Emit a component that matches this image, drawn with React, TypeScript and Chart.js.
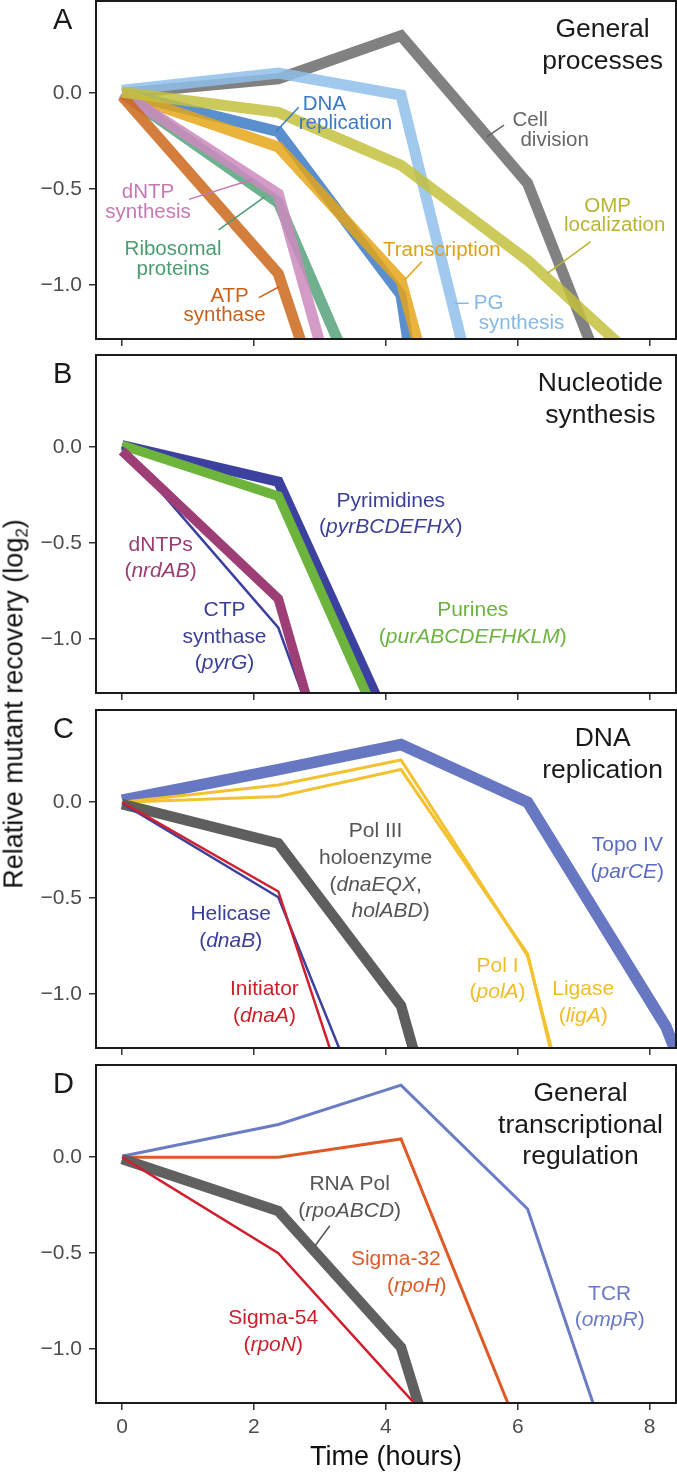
import React, { useEffect, useRef } from "react";
import { Chart, registerables } from "chart.js";

Chart.register(...registerables);

const FONT = "'Liberation Sans', Arial, Helvetica, sans-serif";

// ---------------- data ----------------
const TIME_H = [0, 2.37, 4.23, 6.15, 8.25, 10.3];
const X_TICKS = [0, 2, 4, 6, 8];
const X_TICK_LABELS = ["0", "2", "4", "6", "8"];
const Y_TICKS = [-1.0, -0.5, 0.0];
const Y_TICK_LABELS = ["\u22121.0", "\u22120.5", "0.0"];
const X_TITLE = "Time (hours)";

// Panel A: general processes
const A_CELL_DIVISION = [0.0, 0.075, 0.3, -0.47, -2.3];
const A_PG_SYNTHESIS = [0.015, 0.105, -0.01, -2.69];
const A_DNA_REPLICATION = [0.0, -0.2, -1.05, -5.47];
const A_TRANSCRIPTION = [0.0, -0.28, -0.975, -3.41];
const A_RIBOSOMAL = [0.0, -0.57, -2.05];
const A_DNTP_SYNTHESIS = [0.0, -0.525, -2.82];
const A_ATP_SYNTHASE = [-0.015, -0.94, -2.86];
const A_OMP_LOCALIZATION = [0.005, -0.1, -0.375, -0.87, -1.53];

// Panel B: nucleotide synthesis
const B_PYRIMIDINES = [0.01, -0.18, -1.58];
const B_PURINES = [0.01, -0.255, -1.69];
const B_DNTPS = [-0.02, -0.79, -3.01];
const B_CTP_SYNTHASE = [0.0, -0.94, -2.7];

// Panel C: DNA replication
const C_TOPO_IV = [0.01, 0.17, 0.3, 0.0, -1.17, -3.0];
const C_POL_I = [0.0, 0.03, 0.17, -0.79, -3.81];
const C_LIGASE = [0.0, 0.09, 0.22, -0.8, -3.6];
const C_POL_III = [-0.01, -0.215, -1.06, -3.4];
const C_HELICASE = [-0.005, -0.495, -2.08];
const C_INITIATOR = [0.0, -0.465, -2.41];

// Panel D: general transcriptional regulation
const D_TCR = [0.005, 0.17, 0.375, -0.27, -2.41];
const D_SIGMA32 = [0.0, 0.0, 0.095, -1.535];
const D_RNA_POL = [-0.01, -0.28, -0.99, -3.13];
const D_SIGMA54 = [0.0, -0.5, -1.205, -1.925];

// ---------------- layout / style ----------------
const X_MIN = -0.395;
const X_MAX = 8.4;
const Y_MIN = -1.28;
const Y_MAX = 0.48;
const AREA_H = 338;

type Series = { values: number[]; color: string; width: number };
type Label = { lines: string[]; x: number; y: number; color: string; align?: CanvasTextAlign; dx?: number[] };
type Leader = { x1: number; y1: number; x2: number; y2: number; color: string };
type PanelCfg = {
  letter: string;
  canvasTop: number;
  canvasBottom: number;
  areaTop: number;
  title: string[];
  series: Series[]; // bottom -> top drawing order
  labels: Label[];
  leaders: Leader[];
  lineGap: number;
  labelSize: number;
  alpha: number;
  showXLabels: boolean;
};

const PANELS: PanelCfg[] = [
  {
    letter: "A",
    canvasTop: 0,
    canvasBottom: 354,
    areaTop: 1,
    title: ["General", "processes"],
    series: [
      { values: A_CELL_DIVISION, color: "#6b6b6b", width: 11 },
      { values: A_PG_SYNTHESIS, color: "#8fc0ea", width: 11 },
      { values: A_DNA_REPLICATION, color: "#3c7bc3", width: 11 },
      { values: A_TRANSCRIPTION, color: "#e5a61a", width: 11 },
      { values: A_RIBOSOMAL, color: "#56a37b", width: 11 },
      { values: A_DNTP_SYNTHESIS, color: "#cc89bf", width: 11 },
      { values: A_ATP_SYNTHASE, color: "#cd671b", width: 11 },
      { values: A_OMP_LOCALIZATION, color: "#c4c13f", width: 11 },
    ],
    labels: [
      { lines: ["DNA", "replication"], x: 2.68, y: -0.0875, color: "#3b7ac4", align: "left", dx: [4, 0] },
      { lines: ["Cell", "division"], x: 5.92, y: -0.171, color: "#666666", align: "left", dx: [0, 8] },
      { lines: ["dNTP", "synthesis"], x: 0.394, y: -0.547, color: "#c678b5", align: "center" },
      { lines: ["Ribosomal", "proteins"], x: 0.773, y: -0.843, color: "#4a9c71", align: "center" },
      { lines: ["ATP", "synthase"], x: 1.555, y: -1.086, color: "#c8621b", align: "center", dx: [5, 0] },
      { lines: ["Transcription"], x: 4.848, y: -0.848, color: "#dea01a", align: "center" },
      { lines: ["PG", "synthesis"], x: 5.333, y: -1.1255, color: "#84b9e6", align: "left", dx: [0, 5] },
      { lines: ["OMP", "localization"], x: 7.364, y: -0.617, color: "#b8b534", align: "center", dx: [0, 7] },
    ],
    leaders: [
      { x1: 2.677, y1: -0.073, x2: 2.336, y2: -0.2, color: "#3b7ac4" },
      { x1: 5.792, y1: -0.166, x2: 5.53, y2: -0.227, color: "#666666" },
      { x1: 1.015, y1: -0.553, x2: 1.988, y2: -0.448, color: "#c678b5" },
      { x1: 1.464, y1: -0.712, x2: 2.167, y2: -0.539, color: "#4a9c71" },
      { x1: 2.074, y1: -1.065, x2: 2.382, y2: -1.008, color: "#c8621b" },
      { x1: 4.545, y1: -0.878, x2: 4.285, y2: -0.973, color: "#dea01a" },
      { x1: 5.258, y1: -1.094, x2: 5.045, y2: -1.094, color: "#84b9e6" },
      { x1: 7.106, y1: -0.773, x2: 6.448, y2: -0.938, color: "#b8b534" },
    ],
    lineGap: 19.5,
    labelSize: 20.5,
    alpha: 0.85,
    showXLabels: false,
  },
  {
    letter: "B",
    canvasTop: 354,
    canvasBottom: 709,
    areaTop: 355,
    title: ["Nucleotide", "synthesis"],
    series: [
      { values: B_PYRIMIDINES, color: "#3c41a0", width: 10.5 },
      { values: B_PURINES, color: "#6cb43c", width: 9.5 },
      { values: B_CTP_SYNTHASE, color: "#3c41a0", width: 2.5 },
      { values: B_DNTPS, color: "#9e3e76", width: 9.5 },
    ],
    labels: [
      { lines: ["Pyrimidines", "(_pyrBCDEFHX_)"], x: 4.076, y: -0.31, color: "#3b3f99" },
      { lines: ["Purines", "(_purABCDEFHKLM_)"], x: 5.318, y: -0.879, color: "#6db33f" },
      { lines: ["dNTPs", "(_nrdAB_)"], x: 0.585, y: -0.539, color: "#9b3b74" },
      { lines: ["CTP", "synthase", "(_pyrG_)"], x: 1.553, y: -0.879, color: "#3b3f99" },
    ],
    leaders: [],
    lineGap: 26.6,
    labelSize: 21,
    alpha: 1,
    showXLabels: false,
  },
  {
    letter: "C",
    canvasTop: 709,
    canvasBottom: 1063,
    areaTop: 710,
    title: ["DNA", "replication"],
    series: [
      { values: C_TOPO_IV, color: "#6777c2", width: 11.5 },
      { values: C_LIGASE, color: "#f3c230", width: 3 },
      { values: C_POL_I, color: "#f3c230", width: 3 },
      { values: C_POL_III, color: "#5e5e5e", width: 10.5 },
      { values: C_HELICASE, color: "#3c41a0", width: 2.5 },
      { values: C_INITIATOR, color: "#d0202d", width: 2.5 },
    ],
    labels: [
      { lines: ["Pol III", "holoenzyme", "(_dnaEQX_,", "_holABD_)"], x: 3.845, y: -0.183, color: "#555555", dx: [0, 0, 0, 15] },
      { lines: ["Topo IV", "(_parCE_)"], x: 7.662, y: -0.254, color: "#5b6cc0" },
      { lines: ["Helicase", "(_dnaB_)"], x: 1.647, y: -0.6135, color: "#3b3f99" },
      { lines: ["Initiator", "(_dnaA_)"], x: 2.159, y: -1.004, color: "#cc1f2a" },
      { lines: ["Pol I", "(_polA_)"], x: 5.694, y: -0.883, color: "#f0bd25" },
      { lines: ["Ligase", "(_ligA_)"], x: 6.992, y: -1.004, color: "#f0bd25" },
    ],
    leaders: [],
    lineGap: 26.6,
    labelSize: 21,
    alpha: 1,
    showXLabels: false,
  },
  {
    letter: "D",
    canvasTop: 1063,
    canvasBottom: 1475,
    areaTop: 1065,
    title: ["General", "transcriptional", "regulation"],
    series: [
      { values: D_TCR, color: "#6a7cc6", width: 3 },
      { values: D_SIGMA32, color: "#e05a27", width: 3 },
      { values: D_RNA_POL, color: "#606060", width: 10.5 },
      { values: D_SIGMA54, color: "#d01f2e", width: 2.5 },
    ],
    labels: [
      { lines: ["RNA Pol", "(_rpoABCD_)"], x: 3.452, y: -0.171, color: "#555555" },
      { lines: ["Sigma-32", "(_rpoH_)"], x: 4.152, y: -0.5615, color: "#de5a26", dx: [0, 21] },
      { lines: ["Sigma-54", "(_rpoN_)"], x: 2.292, y: -0.87, color: "#cc1f2a" },
      { lines: ["TCR", "(_ompR_)"], x: 7.394, y: -0.743, color: "#6a7bc4" },
    ],
    leaders: [{ x1: 3.15, y1: -0.357, x2: 2.927, y2: -0.461, color: "#555555" }],
    lineGap: 26.6,
    labelSize: 21,
    alpha: 1,
    showXLabels: true,
  },
];

// ---------------- helpers ----------------
function withAlpha(hex: string, a: number) {
  if (a >= 1) return hex;
  const r = parseInt(hex.slice(1, 3), 16);
  const g = parseInt(hex.slice(3, 5), 16);
  const b = parseInt(hex.slice(5, 7), 16);
  return `rgba(${r},${g},${b},${a})`;
}

function fontStr(size: number, italic: boolean) {
  return `${italic ? "italic " : ""}${size}px ${FONT}`;
}

function drawRich(ctx: CanvasRenderingContext2D, line: string, x: number, y: number, align: string, size: number, color: string) {
  const segs = line
    .split("_")
    .map((t, i) => ({ t, it: i % 2 === 1 }))
    .filter((s) => s.t.length > 0);
  let total = 0;
  const ws = segs.map((s) => {
    ctx.font = fontStr(size, s.it);
    const w = ctx.measureText(s.t).width;
    total += w;
    return w;
  });
  let cx = align === "center" ? x - total / 2 : align === "right" ? x - total : x;
  ctx.fillStyle = color;
  ctx.textAlign = "left";
  ctx.textBaseline = "alphabetic";
  segs.forEach((s, i) => {
    ctx.font = fontStr(size, s.it);
    ctx.fillText(s.t, cx, y);
    cx += ws[i];
  });
}

function makePlugin(p: PanelCfg) {
  return {
    id: "decor" + p.letter,
    afterDatasetsDraw(chart: any) {
      const ctx: CanvasRenderingContext2D = chart.ctx;
      const a = chart.chartArea;
      const xs = chart.scales.x;
      const ys = chart.scales.y;
      ctx.save();
      // leader lines
      p.leaders.forEach((l) => {
        ctx.strokeStyle = l.color;
        ctx.lineWidth = 1.5;
        ctx.beginPath();
        ctx.moveTo(xs.getPixelForValue(l.x1), ys.getPixelForValue(l.y1));
        ctx.lineTo(xs.getPixelForValue(l.x2), ys.getPixelForValue(l.y2));
        ctx.stroke();
      });
      // labels
      p.labels.forEach((lb) => {
        const x = xs.getPixelForValue(lb.x);
        const y0 = ys.getPixelForValue(lb.y);
        lb.lines.forEach((ln, k) => {
          const dx = lb.dx ? lb.dx[k] || 0 : 0;
          drawRich(ctx, ln, x + dx, y0 + k * p.lineGap, lb.align || "center", p.labelSize, lb.color);
        });
      });
      // panel title (centered block, right-anchored)
      const tSize = 26.5;
      ctx.font = fontStr(tSize, false);
      const maxW = Math.max(...p.title.map((t) => ctx.measureText(t).width));
      const tcx = a.right - 13 - maxW / 2;
      p.title.forEach((t, k) => {
        drawRich(ctx, t, tcx, a.top + 36 + k * 31.5, "center", tSize, "#1a1a1a");
      });
      // box
      ctx.strokeStyle = "#1a1a1a";
      ctx.lineWidth = 2;
      ctx.strokeRect(a.left, a.top, a.right - a.left, a.bottom - a.top);
      // panel letter
      ctx.font = fontStr(29, false);
      ctx.fillStyle = "#1a1a1a";
      ctx.textAlign = "left";
      ctx.textBaseline = "alphabetic";
      ctx.fillText(p.letter, 53, a.top + 27.5);
      // x axis title
      if (p.showXLabels) {
        drawRich(ctx, X_TITLE, (a.left + a.right) / 2, a.bottom + 62, "center", 27, "#111111");
      }
      ctx.restore();
    },
  };
}

function Panel({ cfg }: { cfg: PanelCfg }) {
  const ref = useRef<HTMLCanvasElement>(null);
  const h = cfg.canvasBottom - cfg.canvasTop;
  useEffect(() => {
    const padTop = cfg.areaTop - cfg.canvasTop;
    const axisH = h - padTop - AREA_H;
    const n = cfg.series.length;
    const datasets = cfg.series.map((s, i) => ({
      data: s.values.map((v, k) => ({ x: TIME_H[k], y: v })),
      borderColor: withAlpha(s.color, cfg.alpha),
      borderWidth: s.width,
      borderCapStyle: "butt" as const,
      borderJoinStyle: "miter" as const,
      pointRadius: 0,
      pointHoverRadius: 0,
      tension: 0,
      fill: false,
      clip: 0,
      order: n - i,
    }));
    const chart = new Chart(ref.current as HTMLCanvasElement, {
      type: "line",
      data: { datasets },
      plugins: [makePlugin(cfg)],
      options: {
        animation: false,
        responsive: false,
        maintainAspectRatio: false,
        devicePixelRatio: 1,
        events: [],
        layout: { padding: { top: padTop, right: 1, left: 0, bottom: 0 } },
        plugins: { legend: { display: false }, tooltip: { enabled: false }, title: { display: false } },
        scales: {
          x: {
            type: "linear",
            min: X_MIN,
            max: X_MAX,
            afterBuildTicks: (s: any) => {
              s.ticks = X_TICKS.map((v) => ({ value: v }));
            },
            afterFit: (s: any) => {
              s.height = axisH;
              s.paddingLeft = 0;
              s.paddingRight = 0;
            },
            grid: { display: true, drawOnChartArea: false, drawTicks: true, tickLength: 7, color: "#333333", lineWidth: 1.5 },
            border: { display: false },
            ticks: {
              display: cfg.showXLabels,
              autoSkip: false,
              maxRotation: 0,
              minRotation: 0,
              padding: 5,
              color: "#4d4d4d",
              font: { family: FONT, size: 21 },
              callback: (v: any) => X_TICK_LABELS[X_TICKS.indexOf(Number(v))] ?? "",
            },
          },
          y: {
            type: "linear",
            min: Y_MIN,
            max: Y_MAX,
            afterBuildTicks: (s: any) => {
              s.ticks = Y_TICKS.map((v) => ({ value: v }));
            },
            afterFit: (s: any) => {
              s.width = 96;
              s.paddingTop = 0;
              s.paddingBottom = 0;
            },
            grid: { display: true, drawOnChartArea: false, drawTicks: true, tickLength: 7, color: "#333333", lineWidth: 1.5 },
            border: { display: false },
            ticks: {
              autoSkip: false,
              padding: 7,
              color: "#4d4d4d",
              font: { family: FONT, size: 21 },
              callback: (v: any) => Y_TICK_LABELS[Y_TICKS.indexOf(Number(v))] ?? "",
            },
          },
        },
      } as any,
    });
    return () => chart.destroy();
  }, []);
  return (
    <canvas
      ref={ref}
      width={677}
      height={h}
      style={{ position: "absolute", left: 0, top: cfg.canvasTop, width: 677, height: h, display: "block" }}
    />
  );
}

export default function App() {
  return (
    <div style={{ position: "absolute", left: 0, top: 0, width: 677, height: 1475, background: "#ffffff", overflow: "hidden" }}>
      {PANELS.map((p) => (
        <Panel key={p.letter} cfg={p} />
      ))}
      <div
        style={{
          position: "absolute",
          left: 13.5,
          top: 704,
          transform: "translate(-50%, -50%) rotate(-90deg)",
          fontFamily: FONT,
          fontSize: 27,
          lineHeight: 1,
          whiteSpace: "nowrap",
          color: "#111111",
        }}
      >
        Relative mutant recovery (log
        <span style={{ fontSize: "0.62em", position: "relative", top: "0.28em" }}>2</span>)
      </div>
    </div>
  );
}
